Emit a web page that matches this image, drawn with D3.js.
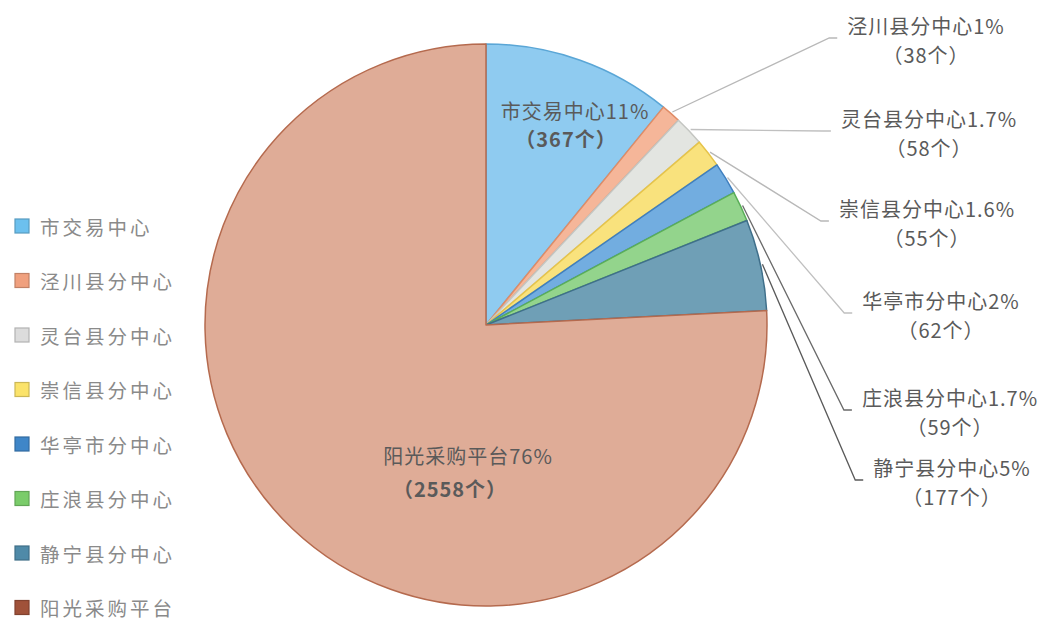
<!DOCTYPE html>
<html lang="zh">
<head>
<meta charset="UTF-8">
<title>分中心交易量占比</title>
<script src="https://d3js.org/d3.v7.min.js"></script>
<style>
    body { margin: 0; background: #fff; }
    svg text { font-family: "Noto Sans CJK SC", "Noto Sans", sans-serif; }
    .legend-text { font-size: 19.5px; fill: #8a8a8a; letter-spacing: 3px; }
    .label { font-size: 20px; fill: #5a5a5a; letter-spacing: 1px; }
    .leader { fill: none; stroke: #b4b4b4; stroke-width: 1.3px; }
</style>
</head>
<body>
<div id="chart"></div>
<script>
    // data
    const names = ["市交易中心", "泾川县分中心", "灵台县分中心", "崇信县分中心",
                   "华亭市分中心", "庄浪县分中心", "静宁县分中心", "阳光采购平台"];
    const counts = [367, 38, 58, 55, 62, 59, 177, 2558];
    const pctLabels = ["11%", "1%", "1.7%", "1.6%", "2%", "1.7%", "5%", "76%"];

    const sliceColors = ["#8fcbf0", "#f5b699", "#e3e5e1", "#f9e27d", "#72ade0", "#93d48c", "#6f9fb6", "#dfac97"];
    const sliceStrokes = ["#5aa6d6", "#e08c66", "#c4c6c2", "#e6c44a", "#3f7fbf", "#5aae58", "#3f6f8a", "#b56a4e"];
    const legendColors = ["#6cc0ee", "#f0a07e", "#dcdcdc", "#fbe36a", "#3f86c8", "#7acc6a", "#4f8aa8", "#a0523a"];

    const width = 1048, height = 624;
    const cx = 486, cy = 325, radius = 281;

    const svg = d3.select("#chart").append("svg")
        .attr("width", width)
        .attr("height", height);

    const data = names.map((n, i) => ({name: n, value: counts[i], pct: pctLabels[i], i: i}));

    const pie = d3.pie().sort(null).value(d => d.value);
    const arcs = pie(data);
    const arc = d3.arc().innerRadius(0).outerRadius(radius);

    const g = svg.append("g").attr("transform", `translate(${cx},${cy})`);

    g.selectAll("path.slice")
        .data(arcs)
        .enter()
        .append("path")
        .attr("class", "slice")
        .attr("d", arc)
        .attr("fill", d => sliceColors[d.data.i])
        .attr("stroke", d => sliceStrokes[d.data.i])
        .attr("stroke-width", 1.5)
        .attr("stroke-linejoin", "round");

    // inner labels (big slices), offsets from pie centre
    const innerPos = {0: [[89, -215], [80, -187]], 7: [[-18, 130], [-36, 163]]};
    Object.keys(innerPos).forEach(k => {
        const d = data[k];
        const p = innerPos[k];
        g.append("text").attr("class", "label")
            .attr("x", p[0][0]).attr("y", p[0][1])
            .attr("text-anchor", "middle").attr("dominant-baseline", "central")
            .text(d.name + d.pct);
        g.append("text").attr("class", "label")
            .attr("x", p[1][0]).attr("y", p[1][1])
            .attr("text-anchor", "middle").attr("dominant-baseline", "central")
            .style("font-weight", "bold")
            .text("（" + d.value + "个）");
    });

    // outside labels for the small slices: label centre x, first line y
    const outLayout = {1: [926, 25], 2: [929, 118], 3: [927, 208], 4: [941, 300], 5: [950, 397], 6: [952, 467]};
    const leaderColors = {1: "#b8b8b8", 2: "#c0c0c0", 3: "#b8b8b8", 4: "#c0c0c0", 5: "#6a6a6a", 6: "#5a5a5a"};

    arcs.forEach(a => {
        const k = a.data.i;
        if (!(k in outLayout)) return;
        const [lx, ly] = outLayout[k];
        const t1 = svg.append("text").attr("class", "label")
            .attr("x", lx).attr("y", ly)
            .attr("text-anchor", "middle").attr("dominant-baseline", "central")
            .text(a.data.name + a.data.pct);
        svg.append("text").attr("class", "label")
            .attr("x", lx).attr("y", ly + 29)
            .attr("text-anchor", "middle").attr("dominant-baseline", "central")
            .text("（" + a.data.value + "个）");

        const bb = t1.node().getBBox();
        const mid = (a.startAngle + a.endAngle) / 2;
        const r0 = radius + 2;
        const sx = cx + r0 * Math.sin(mid), sy = cy - r0 * Math.cos(mid);
        const ex = bb.x - 18, ey = ly + 13;
        svg.append("path").attr("class", "leader")
            .style("stroke", leaderColors[k])
            .attr("d", d3.line()([[sx, sy], [ex, ey], [ex + 8, ey]]));
    });

    // legend
    const legend = svg.append("g").attr("transform", "translate(15,226)");
    const items = legend.selectAll("g.item")
        .data(data)
        .enter()
        .append("g")
        .attr("class", "item")
        .attr("transform", (d, i) => `translate(0,${i * 54.5})`);

    items.append("rect")
        .attr("x", 0).attr("y", -7)
        .attr("width", 14).attr("height", 14)
        .attr("fill", d => legendColors[d.i])
        .attr("stroke", d => d3.color(legendColors[d.i]).darker(0.6))
        .attr("stroke-width", 1.2);

    items.append("text")
        .attr("class", "legend-text")
        .attr("x", 25).attr("y", 0)
        .attr("dominant-baseline", "central")
        .text(d => d.name);
</script>
</body>
</html>
